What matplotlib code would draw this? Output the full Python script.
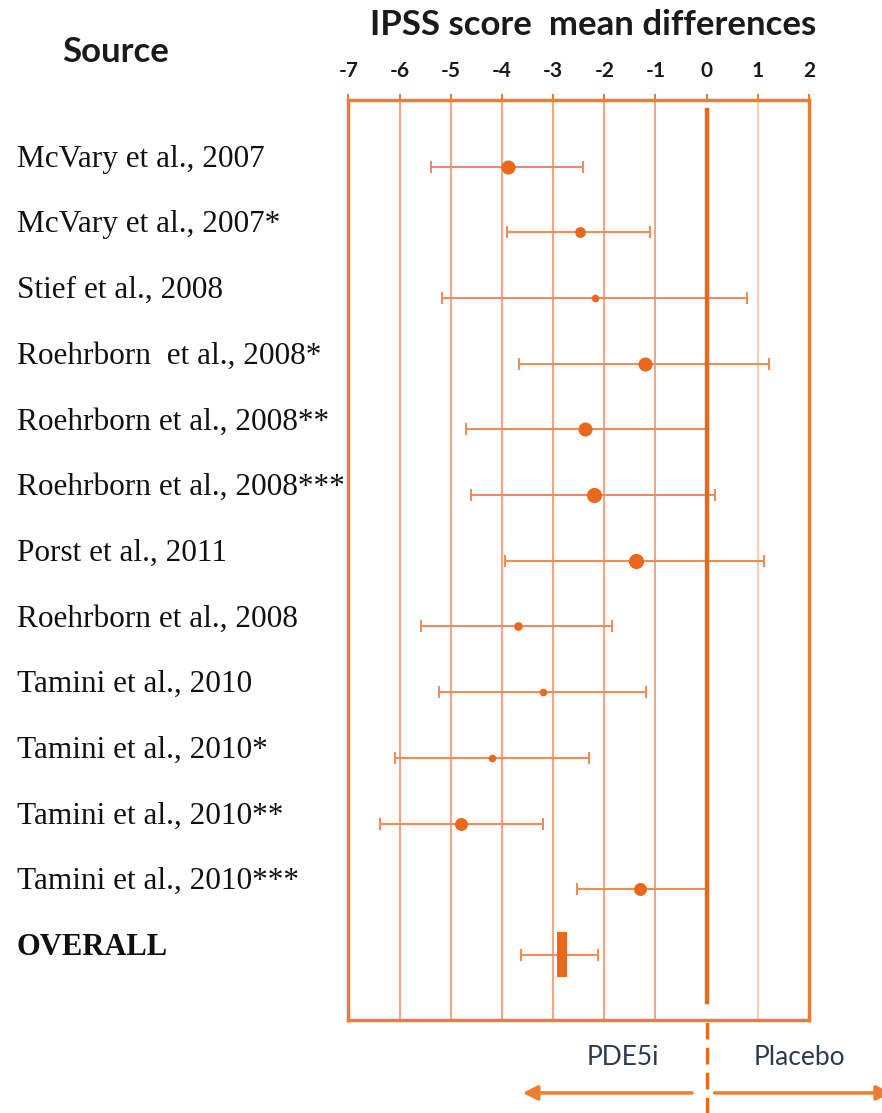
import numpy as np
import matplotlib.pyplot as plt
import matplotlib.transforms as mtransforms

# study rows, top to bottom
studies = [
    "McVary et al., 2007",
    "McVary et al., 2007*",
    "Stief et al., 2008",
    "Roehrborn  et al., 2008*",
    "Roehrborn et al., 2008**",
    "Roehrborn et al., 2008***",
    "Porst et al., 2011",
    "Roehrborn et al., 2008",
    "Tamini et al., 2010",
    "Tamini et al., 2010*",
    "Tamini et al., 2010**",
    "Tamini et al., 2010***",
]
mean_diff = [-3.89, -2.48, -2.19, -1.20, -2.38, -2.21, -1.39, -3.69, -3.19, -4.19, -4.81, -1.30]
ci_low = [-5.38, -3.90, -5.17, -3.66, -4.71, -4.61, -3.95, -5.58, -5.24, -6.10, -6.39, -2.54]
ci_high = [-2.42, -1.11, 0.78, 1.22, 0.0, 0.16, 1.13, -1.84, -1.19, -2.30, -3.20, -0.02]
weights = [13, 10, 7, 13, 13, 14, 14, 8, 7, 7, 12, 12]

overall_label = "OVERALL"
overall_mean = -2.83
overall_low = -3.62
overall_high = -2.12

ticks = [-7, -6, -5, -4, -3, -2, -1, 0, 1, 2]

ORANGE = "#E8691E"
FRAME = "#ED7D31"
GRID = "#F4A585"
GRID_PALE = "#F8CDB5"
BAR = "#EE8C5A"

fig = plt.figure(figsize=(8.82, 11.13), dpi=100)
ax = fig.add_axes([0.3951, 0.0836, 0.5221, 0.8266])
ax.set_xlim(-7, 2)
ax.set_ylim(12.99, -1.015)

# vertical grid lines
for t in ticks[1:-1]:
    if t == 0:
        continue
    ax.axvline(t, color=GRID_PALE if t > 0 else GRID, lw=1.5, zorder=1)

# line of no effect
ax.axvline(0, ymin=0.0196, ymax=0.989, color=ORANGE, lw=3.2, zorder=4)
ax.axvline(0, ymin=-0.11, ymax=0.0, color=ORANGE, lw=2.4, ls=(0, (5, 2.5)),
           clip_on=False, zorder=4)

y = np.arange(len(studies))
for yi, m, lo, hi, w in zip(y, mean_diff, ci_low, ci_high, weights):
    ax.errorbar(m, yi, xerr=[[m - lo], [hi - m]], fmt="none", ecolor=BAR,
                elinewidth=1.5, capsize=4, capthick=1.5, zorder=3)
    ax.plot(m, yi, "o", color=ORANGE, ms=w * 0.78, mec="none", zorder=5)

# overall estimate
yo = len(studies)
ax.errorbar(overall_mean, yo, xerr=[[overall_mean - overall_low], [overall_high - overall_mean]],
            fmt="none", ecolor=BAR, elinewidth=1.5, capsize=4, capthick=1.5, zorder=3)
ax.bar(overall_mean, 0.685, width=0.195, bottom=yo - 0.3425, color=ORANGE, zorder=5)

# frame and ticks
for side in ["top", "bottom", "left", "right"]:
    ax.spines[side].set_color(FRAME)
    ax.spines[side].set_linewidth(2.5)
ax.xaxis.tick_top()
ax.set_xticks(ticks)
ax.set_xticklabels([str(t) for t in ticks], fontsize=15, fontweight="bold",
                   family="Lato", color="#1a1a1a")
ax.tick_params(axis="x", direction="out", length=4, width=1.5, color=FRAME, pad=10)
ax.set_yticks([])

# study labels
trans = mtransforms.blended_transform_factory(fig.transFigure, ax.transData)
for yi, name in zip(y, studies):
    ax.text(17 / 882, yi, name, transform=trans, ha="left", va="baseline",
            fontsize=22.5, family="Liberation Serif", color="#111111")
ax.text(17 / 882, yo, overall_label, transform=trans, ha="left", va="baseline",
        fontsize=22, family="Liberation Serif", fontweight="bold", color="#111111")

fig.text(116 / 882, 1 - 52 / 1113, "Source", ha="center", va="center",
         fontsize=25, fontweight="bold", family="Lato", color="#1a1a1a")
fig.text(593 / 882, 1 - 25 / 1113, "IPSS score  mean differences", ha="center", va="center",
         fontsize=25, fontweight="bold", family="Lato", color="#1a1a1a")

# direction hints under the axis
xa = ax.get_xaxis_transform()
ax.text(-1.64, -0.0413, "PDE5i", transform=xa, ha="center", va="center",
        fontsize=19, family="Lato", color="#2E3A4E")
ax.text(1.82, -0.0413, "Placebo", transform=xa, ha="center", va="center",
        fontsize=19, family="Lato", color="#2E3A4E")
ax.annotate("", xy=(-3.65, -0.0793), xytext=(-0.23, -0.0793), xycoords=xa, textcoords=xa,
            arrowprops=dict(arrowstyle="-|>", color=FRAME, lw=2.5, mutation_scale=22),
            annotation_clip=False)
ax.annotate("", xy=(3.66, -0.0793), xytext=(0.1, -0.0793), xycoords=xa, textcoords=xa,
            arrowprops=dict(arrowstyle="-|>", color=FRAME, lw=2.5, mutation_scale=22),
            annotation_clip=False)

fig.savefig("out.png", dpi=100)
